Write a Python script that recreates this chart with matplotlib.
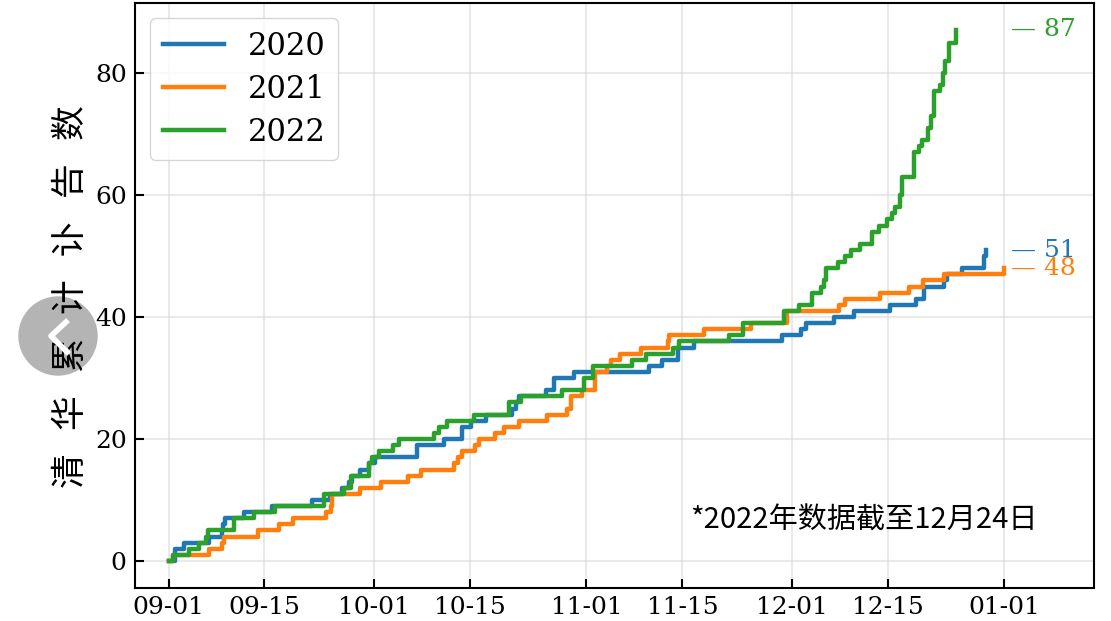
# 清华累计讣告数 2020-2022 对比
import matplotlib
matplotlib.use('Agg')
import matplotlib.pyplot as plt
from matplotlib.patches import Circle
from matplotlib.lines import Line2D

plt.rcParams['font.family'] = ['DejaVu Serif']

# 每次计数变化的日期（距 09-01 的天数）和累计数
days_2020 = [0, 1.0, 2.2, 5.9, 7.8, 8.0, 8.3, 11, 15.1, 21, 23.5, 25.3, 26.3, 26.8, 28, 29.3, 30.2, 36.2, 40.2, 42.9,
             44.1, 46.3, 50.2, 50.7, 51.15, 55.05, 56.3, 59.2, 70.1, 72.1, 74.3, 76.7, 89.6, 92.3, 93.0, 97.1, 100.05,
             105.3, 109.05, 110.3, 113.2, 113.6, 115.9, 119.1, 119.3]
counts_2020 = [0, 2, 3, 4, 5, 6, 7, 8, 9, 10, 11, 12, 13, 14, 15, 16, 17, 19, 20, 22,
               23, 24, 25, 26, 27, 28, 30, 31, 32, 33, 35, 36, 37, 38, 39, 40, 41,
               42, 43, 45, 46, 47, 48, 50, 51]

days_2021 = [0, 0.7, 5.9, 7.8, 8.1, 13, 16.1, 18.1, 23, 23.7, 23.9, 28, 31, 34.9, 36.9, 41.7, 42.2, 42.8,
             44.8, 45.3, 47.7, 48.9, 51.15, 55.3, 58.1, 58.7, 60.4, 62.2, 64.0, 64.6, 65.9, 68.9, 72.9, 73.1, 78.2,
             85.0, 90.3, 97.9, 98.8, 103.9, 108.1, 110.2, 113.2, 122.0]
counts_2021 = [0, 1, 2, 3, 4, 5, 6, 7, 8, 9, 11, 12, 13, 14, 15, 16, 17, 18,
               19, 20, 21, 22, 23, 24, 25, 27, 28, 31, 32, 33, 34, 35, 36, 37, 38,
               39, 41, 42, 43, 44, 45, 46, 47, 48]

days_2022 = [0, 0.7, 3.0, 4.4, 5.4, 5.7, 9.5, 12.5, 15.5, 22.7, 25.6, 26.6, 29.3, 29.7, 30.7, 32.7, 33.6, 38.7, 39.5, 40.7,
             44.6, 49.7, 51.4, 57.5, 60.7, 61.9, 67.7, 69.7, 73.6, 74.5, 81.8, 83.9, 89.8, 92.0, 94.0, 95.2, 95.7, 96.0,
             97.7, 98.7, 99.6, 101.0, 102.7, 103.7, 104.9, 105.6, 106.1, 106.8, 107.0, 108.8, 109.6, 110.0, 110.8,
             111.3, 111.7, 112.6, 113.0, 113.4, 114.0, 114.9]
counts_2022 = [0, 1, 2, 3, 4, 5, 7, 8, 9, 11, 12, 14, 16, 17, 18, 19, 20, 21, 22, 23,
               24, 26, 27, 28, 30, 32, 33, 34, 35, 36, 37, 39, 41, 42, 44, 45, 46, 48,
               49, 50, 51, 52, 54, 55, 56, 57, 58, 60, 63, 67, 68, 69, 71,
               73, 77, 78, 80, 82, 85, 87]

tick_days = [0, 14, 30, 44, 61, 75, 91, 105, 122]
tick_labels = ['09-01', '09-15', '10-01', '10-15', '11-01', '11-15', '12-01', '12-15', '01-01']

fig = plt.figure(figsize=(11.11, 6.21), dpi=100)
ax = fig.add_axes([135 / 1111, 1 - 588 / 621, (1094 - 135) / 1111, (588 - 3) / 621])

ax.step(days_2020, counts_2020, where='post', color='#1f77b4', lw=3.2, label='2020')
ax.step(days_2021, counts_2021, where='post', color='#ff7f0e', lw=3.2, label='2021')
ax.step(days_2022, counts_2022, where='post', color='#2ca02c', lw=3.2, label='2022')

ax.set_xlim(-4.9, 135.1)
ax.set_ylim(-4.43, 91.5)
ax.set_xticks(tick_days)
ax.set_xticklabels(tick_labels)
ax.set_yticks([0, 20, 40, 60, 80])
ax.tick_params(direction='in', length=6.5, width=1.5, labelsize=18, pad=6)
ax.grid(True, color='#d8d8d8', lw=1.5, alpha=0.55)
for s in ax.spines.values():
    s.set_linewidth(1.5)

ax.legend(loc='upper left', fontsize=22, handlelength=2.0, labelspacing=0.4, borderaxespad=0.5)

# 末端标注
ax.text(123, 87.2, '— 87', color='#2ca02c', fontsize=18, va='center')
ax.text(123, 50.9, '— 51', color='#1f77b4', fontsize=18, va='center')
ax.text(123, 48.0, '— 48', color='#ff7f0e', fontsize=18, va='center')

ax.text(76.2, 6.6, '*2022年数据截至12月24日', fontsize=21, va='center',
        family=['Noto Sans CJK SC', 'DejaVu Sans'])

fig.text(72 / 1111, 1 - 297 / 621, '清   华   累   计   讣   告   数', rotation=90, fontsize=25,
         ha='center', va='center', family=['Noto Sans CJK SC'])

# 图上的灰色翻页按钮
fig.add_artist(Circle((58, 621 - 336), 39, transform=None, color='#b4b4b4', zorder=1))
fig.add_artist(Line2D([66, 51, 67], [621 - 322, 621 - 336, 621 - 352], transform=None,
                      color='white', lw=4, zorder=4))

fig.savefig('out.png', dpi=100)
